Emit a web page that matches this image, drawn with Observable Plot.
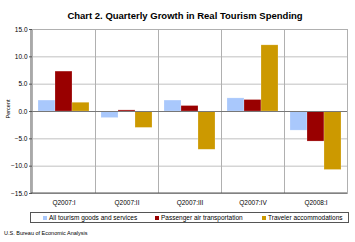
<!DOCTYPE html>
<html><head><meta charset="utf-8">
<script src="https://cdn.jsdelivr.net/npm/d3@7"></script>
<script src="https://cdn.jsdelivr.net/npm/@observablehq/plot@0.6"></script>
<style>
body{margin:0;background:#fff;font-family:"Liberation Sans",Arial,sans-serif;}
#wrap{position:relative;width:355px;height:242px;overflow:hidden;background:#fff}
#title{position:absolute;left:0;width:370px;top:10px;text-align:center;font-weight:bold;font-size:9.5px;color:#000}
#chart{position:absolute;left:0;top:0}
#ylab{position:absolute;left:-12px;top:106px;width:40px;text-align:center;font-size:5.5px;transform:rotate(-90deg);color:#000}
#legend{position:absolute;left:30px;top:212px;width:317px;height:9px;border:1px solid #555;font-size:6.5px;line-height:9px;color:#000}
.item{position:absolute;top:0;white-space:nowrap}
.sw{display:inline-block;width:4px;height:4px;margin-right:2px;vertical-align:0px}
#foot{position:absolute;left:4px;top:230px;font-size:5.5px;color:#000}
</style></head>
<body><div id="wrap">
<div id="title">Chart 2. Quarterly Growth in Real Tourism Spending</div>
<div id="chart"></div>
<div id="ylab">Percent</div>
<div id="legend"></div>
<div id="foot">U.S. Bureau of Economic Analysis</div>
</div>
<script>
const quarters = ["Q2007:I","Q2007:II","Q2007:III","Q2007:IV","Q2008:I"];
const series = ["All tourism goods and services","Passenger air transportation","Traveler accommodations"];
const allTourism = [2.0,-1.2,2.0,2.4,-3.5];
const passengerAir = [7.3,0.2,1.0,2.1,-5.5];
const travelerAcc = [1.6,-3.0,-7.0,12.1,-10.7];
const yTicks = [-15,-10,-5,0,5,10,15];
const colors = ["#a9c8fc","#990000","#cc9900"];

const valuesBySeries = [allTourism, passengerAir, travelerAcc];
const data = [];
quarters.forEach((q,i)=>series.forEach((s,j)=>data.push({quarter:q, series:s, value:valuesBySeries[j][i]})));

const plot = Plot.plot({
  width:355, height:210,
  marginTop:29, marginBottom:17, marginLeft:31, marginRight:8,
  style:{fontFamily:"'Liberation Sans', Arial, sans-serif", fontSize:"6.5px", background:"transparent", color:"#000"},
  fx:{domain:quarters, padding:0, label:null},
  x:{domain:series, paddingInner:0, paddingOuter:0.3, axis:null},
  y:{domain:[-15,15], label:null},
  color:{domain:series, range:colors},
  marks:[
    Plot.gridY(yTicks, {stroke:"#c0c0c0", strokeOpacity:1}),
    Plot.frame({stroke:"#b0b0b0"}),
    Plot.barY(data, {fx:"quarter", x:"series", y:"value", fill:"series", stroke:"#fff", strokeOpacity:0.35, strokeWidth:0.6}),
    Plot.ruleY([0], {stroke:"#777", strokeWidth:1}),
    Plot.axisY(yTicks, {tickFormat:d3.format(".1f"), tickSize:3, tickPadding:2, label:null, stroke:"#555"}),
    Plot.axisFx({anchor:"bottom", tickSize:0, tickPadding:7, label:null}),
  ]
});
document.getElementById("chart").appendChild(plot);

// darker left and bottom axis lines via the plot's own frame positions
const svg = d3.select(plot);
svg.append("line").attr("x1",31).attr("x2",31).attr("y1",29).attr("y2",193).attr("stroke","#555");
svg.append("line").attr("x1",31).attr("x2",347).attr("y1",193).attr("y2",193).attr("stroke","#555");

const legend = document.getElementById("legend");
const lx = [12, 124, 231];
series.forEach((s,i)=>{
  const d = document.createElement("div");
  d.className="item"; d.style.left = lx[i]+"px";
  d.innerHTML = `<span class="sw" style="background:${colors[i]}"></span>${s}`;
  legend.appendChild(d);
});
</script>
</body></html>
